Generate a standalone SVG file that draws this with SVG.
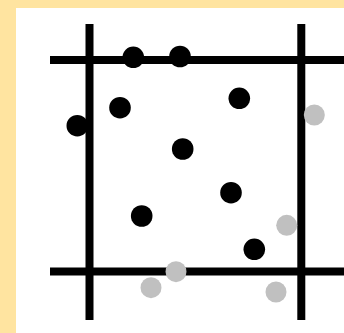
<svg xmlns="http://www.w3.org/2000/svg" width="344" height="333" viewBox="0 0 344 333">
  <style>
    .ln { stroke: #000; stroke-width: 8; fill: none; }
    .b { fill: #000; }
    .g { fill: #c0c0c0; }
  </style>
  <rect x="0" y="0" width="344" height="333" fill="#ffe4a0"/>
  <rect x="16" y="8" width="328" height="325" fill="#ffffff"/>
  <g id="grid">
    <line class="ln" x1="89.5" y1="24" x2="89.5" y2="320"/>
    <line class="ln" x1="301.3" y1="24" x2="301.3" y2="320"/>
    <line class="ln" x1="50" y1="60" x2="344" y2="60"/>
    <line class="ln" x1="50" y1="271.5" x2="344" y2="271.5"/>
  </g>
  <g id="gray-points">
    <circle class="g" cx="314.3" cy="115" r="10.5"/>
    <circle class="g" cx="286.7" cy="225.3" r="10.5"/>
    <circle class="g" cx="176" cy="271.7" r="10.5"/>
    <circle class="g" cx="151" cy="287.7" r="10.5"/>
    <circle class="g" cx="276" cy="292" r="10.5"/>
  </g>
  <g id="black-points">
    <circle class="b" cx="133.3" cy="57.3" r="10.8"/>
    <circle class="b" cx="180" cy="56.5" r="10.8"/>
    <circle class="b" cx="239.3" cy="98.3" r="10.8"/>
    <circle class="b" cx="120" cy="107.7" r="10.8"/>
    <circle class="b" cx="77.3" cy="125.7" r="10.8"/>
    <circle class="b" cx="182.7" cy="149" r="10.8"/>
    <circle class="b" cx="231" cy="192.7" r="10.8"/>
    <circle class="b" cx="141.7" cy="216" r="10.8"/>
    <circle class="b" cx="254.3" cy="249.3" r="10.8"/>
  </g>
</svg>
